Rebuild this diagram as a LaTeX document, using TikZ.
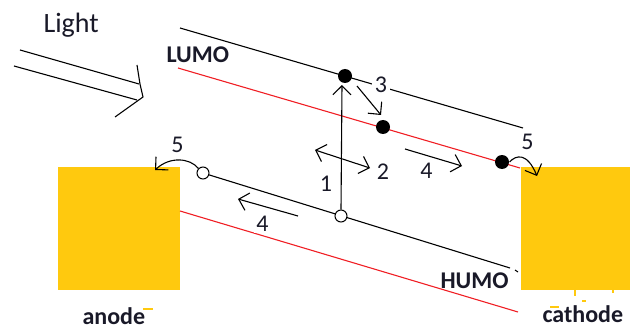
\documentclass[tikz,border=0pt]{standalone}
\usepackage{fontspec}
\setmainfont{Carlito}
\usetikzlibrary{arrows.meta}
\definecolor{gold}{RGB}{255,201,14}
\definecolor{lred}{RGB}{240,30,36}
\definecolor{ink}{RGB}{25,25,40}
\begin{document}
\begin{tikzpicture}[x=1pt,y=-1pt,line width=1.1pt,
  tipb/.tip={Straight Barb[length=9pt,width=18pt,line width=1.1pt]},
  barb/.style={-tipb},
  dbarb/.style={tipb-tipb},
  num/.style={font=\fontsize{24}{24}\selectfont,text=ink,inner sep=0pt},
  lbl/.style={font=\fontsize{24}{24}\selectfont\bfseries,text=ink,inner sep=0pt,anchor=base west},
  edot/.style={circle,fill=black,inner sep=0pt,minimum size=14pt},
  hdot/.style={circle,draw=black,fill=white,inner sep=0pt,minimum size=12pt,line width=1pt},
  electrode/.style={fill=gold,draw=none},
  level/.style={draw=black,line width=1.1pt},
  rlevel/.style={draw=lred,line width=1.1pt},
  speck/.style={draw=gold,line width=1.2pt}]
\useasboundingbox (0,0) rectangle (630,329);
% electrodes
\fill[electrode] (58,167) rectangle (180,290);
\fill[electrode] (521,167) rectangle (630,290);
\draw[speck] (143,309) -- (153,309);
\draw[speck] (550,307) -- (559,307);
\draw[speck] (582,301) -- (586,301);
\draw[speck] (575,290) -- (575,296);
\draw[speck] (613,290) -- (613,293);
% energy levels
\coordinate (lu1) at (180,28);  \coordinate (lu2) at (523,128);
\coordinate (lr1) at (178,68);  \coordinate (lr2) at (520,168);
\coordinate (hu1) at (203,173); \coordinate (hu2) at (510,268);
\coordinate (hr1) at (180,211); \coordinate (hr2) at (518,312);
\path[level] (lu1) -- (lu2);
\path[rlevel] (lr1) -- (lr2);
\path[level] (hu1) -- (hu2);
\path[level] (515,270) -- (518,272);
\path[rlevel] (hr1) -- (hr2);
% light
\coordinate (la1) at (20,50);  \coordinate (la2) at (139,84);
\coordinate (lb1) at (14,66);  \coordinate (lb2) at (137,100);
\coordinate (lt1) at (137,65); \coordinate (lt2) at (140,84);
\coordinate (ltip) at (143,97); \coordinate (lt3) at (115,117);
\draw (la1) -- (la2);
\draw (lb1) -- (lb2);
\draw (lt1) -- (lt2) -- (ltip) -- (lt3);
% carriers
\node[edot] (e1) at (345,76) {};
\node[edot] (e2) at (383,127) {};
\node[edot] (e3) at (502,162) {};
\node[hdot] (h1) at (203,173) {};
\node[hdot] (h2) at (341,216) {};
% arrow 1
\coordinate (a1) at (342,85);
\draw[barb] (h2.north) -- (a1);
% arrow 2
\coordinate (a2s) at (315,150); \coordinate (a2e) at (370,168);
\draw[dbarb] (a2s) -- (a2e);
% arrow 3
\coordinate (a3s) at (357,86); \coordinate (a3e) at (381,115);
\draw[barb] (a3s) -- (a3e);
% arrows 4
\coordinate (a4s) at (405,149); \coordinate (a4e) at (462,166);
\draw[barb] (a4s) -- (a4e);
\coordinate (b4s) at (298,216); \coordinate (b4e) at (238,199);
\draw[barb] (b4s) -- (b4e);
% arrows 5
\coordinate (a5e) at (155,170);
\draw[barb] (h1.north west) .. controls (190,158) and (170,156) .. (a5e);
\coordinate (b5e) at (537,176);
\draw[barb] (e3.east) .. controls (516,155) and (527,152) .. (b5e);
% labels
\node[font=\fontsize{28}{28}\selectfont,text=ink,inner sep=0pt,anchor=base west] (light) at (43,33) {Light};
\node[lbl] (lumo) at (166,63) {LUMO};
\node[lbl] (humo) at (440,288) {HUMO};
\node[lbl] (anode) at (82,324) {anode};
\node[lbl] (cathode) at (542,322) {cathode};
\node[num] (n1) at (326,183.5) {1};
\node[num] (n2) at (383,171.5) {2};
\node[num,fill=white,inner sep=3pt] (n3) at (381,85) {3};
\node[num] (n4a) at (426.5,171) {4};
\node[num,fill=white,inner sep=2pt] (n4b) at (262.5,223.5) {4};
\node[num] (n5a) at (177.5,144.5) {5};
\node[num] (n5b) at (527.5,141.5) {5};
\end{tikzpicture}
\end{document}
